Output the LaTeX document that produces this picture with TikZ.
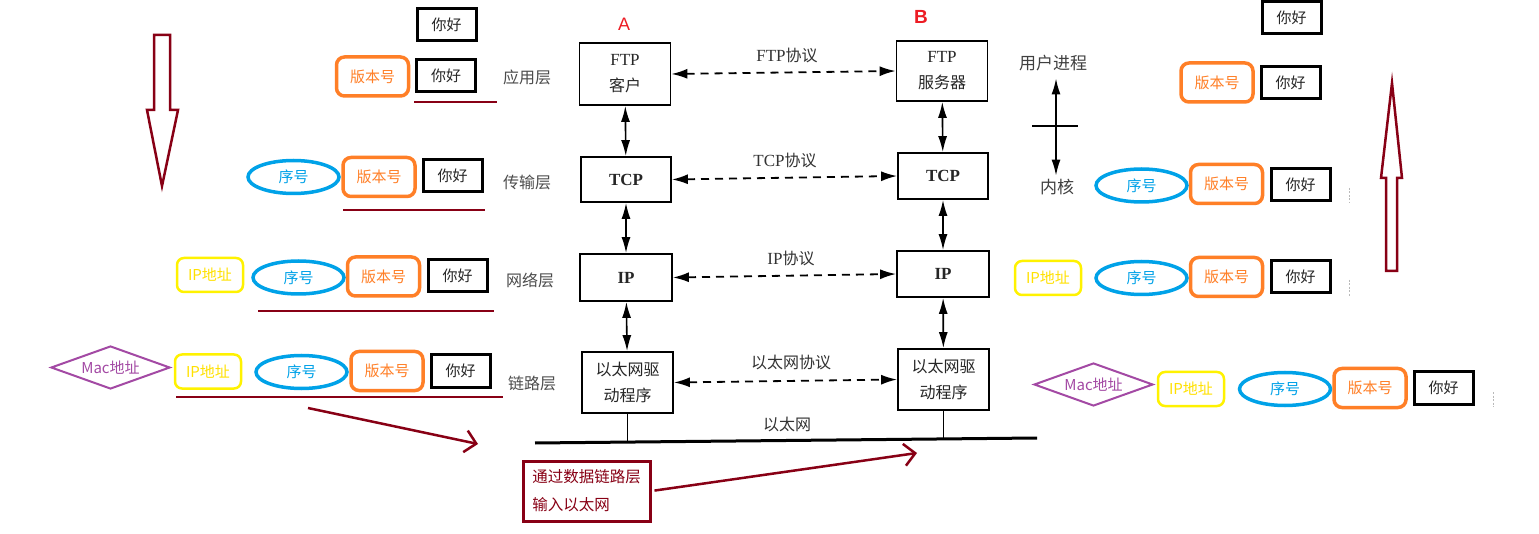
\documentclass[tikz,border=0pt]{standalone}
\usepackage{fontspec}
\setmainfont{Liberation Serif}
\setsansfont{Liberation Sans}
\newfontfamily\cjk{Noto Sans CJK SC}
\usetikzlibrary{shapes.geometric,arrows.meta}
\newcommand\pxsize[2]{\fontsize{#1}{#2}\selectfont}
\definecolor{porange}{HTML}{FF7F27}
\definecolor{pblue}{HTML}{00A2E8}
\definecolor{pyellow}{HTML}{FFF200}
\definecolor{ppurple}{HTML}{A349A4}
\definecolor{pdarkred}{HTML}{880015}
\definecolor{pred}{HTML}{ED1C24}
\begin{document}
\begin{tikzpicture}[x=1pt, y=-1pt,
    pkt/.style={inner sep=0pt, font=\cjk\pxsize{15}{15}},
    hellobox/.style={pkt, draw=black, line width=3pt, minimum width=59pt, minimum height=32pt, text=black!85},
    verbox/.style={pkt, draw=porange, rounded corners=8pt, line width=3.5pt, minimum width=72pt, minimum height=39pt, text=porange},
    seqnode/.style={pkt, ellipse, draw=pblue, line width=3.5pt, minimum width=91pt, minimum height=33pt, text=pblue},
    ipbox/.style={pkt, draw=pyellow, rounded corners=7pt, line width=2.5pt, minimum width=66pt, minimum height=34pt, text=pyellow!85!orange},
    macnode/.style={pkt, diamond, draw=ppurple, line width=2pt, shape aspect=2.7, minimum width=119pt, minimum height=43pt, text=ppurple},
    layerbox/.style={draw, line width=1.8pt, minimum width=91pt, inner sep=0pt, align=center, text=black!85, font=\pxsize{17}{26}},
    layername/.style={font=\cjk\pxsize{16}{16}, text=black!70},
    protoname/.style={font=\pxsize{17}{17}, text=black!80},
    proto/.style={dashed, dash pattern=on 8pt off 6pt, line width=1.8pt, {Latex[length=16pt,width=10pt]}-{Latex[length=16pt,width=10pt]}},
    stack/.style={line width=1.6pt, {Latex[length=16pt,width=9pt]}-{Latex[length=16pt,width=9pt]}},
    hollow/.style={draw=pdarkred, line width=2.5pt},
    redline/.style={draw=pdarkred, line width=2.5pt},
    redarrow/.style={draw=pdarkred, line width=2.5pt, -{Straight Barb[length=11pt,width=22pt]}},
    scanmark/.style={draw=gray!55, line width=0.8pt, dash pattern=on 2pt off 1.5pt},
]
    \useasboundingbox[fill=white] (0,0) rectangle (1539,534);

    % sending side (left)
    \draw[hollow] (154,35) -- (170,35) -- (170,110) -- (178,110) -- (162,186)
        -- (147,110) -- (154,110) -- cycle;
    \node[hellobox] (helloL0) at (446.5,25) {你好};
    \node[verbox] (verL1) at (372.5,76.5) {版本号};
    \node[hellobox] (helloL1) at (446,76) {你好};
    \node[seqnode] (seqL2) at (293.5,177) {序号};
    \node[verbox] (verL2) at (379,177) {版本号};
    \node[hellobox] (helloL2) at (452.5,176) {你好};
    \node[ipbox] (ipL3) at (210,275) {IP地址};
    \node[seqnode] (seqL3) at (298.5,277.5) {序号};
    \node[verbox] (verL3) at (383.5,276.5) {版本号};
    \node[hellobox] (helloL3) at (457.5,276) {你好};
    \node[macnode] (macL4) at (110.5,367.5) {Mac地址};
    \node[ipbox] (ipL4) at (208,371.5) {IP地址};
    \node[seqnode] (seqL4) at (301.5,372) {序号};
    \node[verbox] (verL4) at (387,371) {版本号};
    \node[hellobox] (helloL4) at (460.5,371) {你好};
    \draw[redline] (414,102) -- (497,102);
    \draw[redline] (343,210) -- (485,210);
    \draw[redline] (258,311) -- (494,311);
    \draw[redline] (176,397) -- (503,397);
    \coordinate (sendS) at (308,408);
    \coordinate (sendE) at (478,444);
    \draw[redarrow] (sendS) -- (sendE);

    % protocol stacks
    \node[font=\sffamily\pxsize{18}{18}, text=pred] (hostA) at (624,24) {A};
    \node[font=\sffamily\bfseries\pxsize{19}{19}, text=pred] (hostB) at (921,17) {B};
    \node[layerbox, minimum height=62pt] (ftpA) at (625,74) {FTP\\{\cjk\pxsize{16}{26}客户}};
    \node[layerbox, minimum height=60pt] (ftpB) at (942,71) {FTP\\{\cjk\pxsize{16}{26}服务器}};
    \node[layerbox, minimum width=90pt, minimum height=45pt] (tcpA) at (626,179.5) {\textbf{TCP}};
    \node[layerbox, minimum width=90pt, minimum height=46pt] (tcpB) at (943,176) {\textbf{TCP}};
    \node[layerbox, minimum width=92pt, minimum height=47pt] (ipA) at (626,277.5) {\textbf{IP}};
    \node[layerbox, minimum width=92pt, minimum height=46pt] (ipB) at (943,274) {\textbf{IP}};
    \node[layerbox, minimum height=61pt, font=\cjk\pxsize{16}{26}] (ethA) at (627.5,382.5) {以太网驱\\动程序};
    \node[layerbox, minimum height=61pt, font=\cjk\pxsize{16}{26}] (ethB) at (943.5,379.5) {以太网驱\\动程序};
    \node[layername] (appL) at (527,77) {应用层};
    \node[layername] (tptL) at (527,182) {传输层};
    \node[layername] (netL) at (530,280) {网络层};
    \node[layername] (lnkL) at (532,383) {链路层};
    \node[protoname] (ftpP) at (787,55) {FTP{\cjk\pxsize{16}{16}协议}};
    \node[protoname] (tcpP) at (785,160) {TCP{\cjk\pxsize{16}{16}协议}};
    \node[protoname] (ipP) at (791,258) {IP{\cjk\pxsize{16}{16}协议}};
    \node[protoname, font=\cjk\pxsize{16}{16}] (ethP) at (791,362) {以太网协议};
    \node[protoname, font=\cjk\pxsize{16}{16}] (lanP) at (787,424) {以太网};
    \draw[proto] (ftpA.east) -- (ftpB.west);
    \draw[proto] (tcpA.east) -- (tcpB.west);
    \draw[proto] (ipA.east) -- (ipB.west);
    \draw[proto] (ethA.east) -- (ethB.west);
    \foreach \s in {A,B} {
        \draw[stack] (ftp\s) -- (tcp\s);
        \draw[stack] (tcp\s) -- (ip\s);
        \draw[stack] (ip\s) -- (eth\s);
        \draw[line width=1.2pt] (eth\s.south) -- ++(0,29);
    }
    \coordinate (lanL) at (535,443);
    \coordinate (lanR) at (1037,438);
    \draw[line width=3pt] (lanL) -- (lanR);
    \node[draw=pdarkred, line width=3pt, minimum width=127pt, minimum height=60pt, inner sep=0pt,
        align=left, text=pdarkred, font=\cjk\pxsize{15.5}{28}] (note) at (586.5,491) {通过数据链路层\\输入以太网};
    \coordinate (lanIn) at (917,453);
    \draw[redarrow, shorten <=3pt] (note.east) -- (lanIn);

    % user / kernel
    \node[font=\cjk\pxsize{17}{17}, text=black!75] (user) at (1053,63) {用户进程};
    \node[font=\cjk\pxsize{17}{17}, text=black!75] (kernel) at (1057,187) {内核};
    \draw[stack, shorten <=4pt] ([xshift=3pt]user.south) -- ([xshift=-1pt]kernel.north);
    \draw[line width=1.4pt] (1032,126) -- (1078,126);

    % receiving side (right)
    \draw[hollow] (1386,271) -- (1386,178) -- (1381,178) -- (1392,83) -- (1402,178)
        -- (1397,178) -- (1397,271) -- cycle;
    \node[hellobox] (helloR0) at (1291.5,17.5) {你好};
    \node[verbox] (verR1) at (1217,82.5) {版本号};
    \node[hellobox] (helloR1) at (1290.5,83) {你好};
    \node[seqnode] (seqR2) at (1141.5,185.5) {序号};
    \node[verbox] (verR2) at (1226.5,184) {版本号};
    \node[hellobox] (helloR2) at (1300.5,185) {你好};
    \node[ipbox] (ipR3) at (1048,278) {IP地址};
    \node[seqnode] (seqR3) at (1141.5,278) {序号};
    \node[verbox] (verR3) at (1226.5,277) {版本号};
    \node[hellobox] (helloR3) at (1300.5,276.5) {你好};
    \node[macnode] (macR4) at (1093.5,384.5) {Mac地址};
    \node[ipbox] (ipR4) at (1191,389) {IP地址};
    \node[seqnode] (seqR4) at (1285,389) {序号};
    \node[verbox] (verR4) at (1370,388) {版本号};
    \node[hellobox] (helloR4) at (1443.5,388) {你好};
    \draw[scanmark] (1349,188) -- (1349,203);
    \draw[scanmark] (1349,280) -- (1349,297);
    \draw[scanmark] (1493,392) -- (1493,407);
\end{tikzpicture}
\end{document}
